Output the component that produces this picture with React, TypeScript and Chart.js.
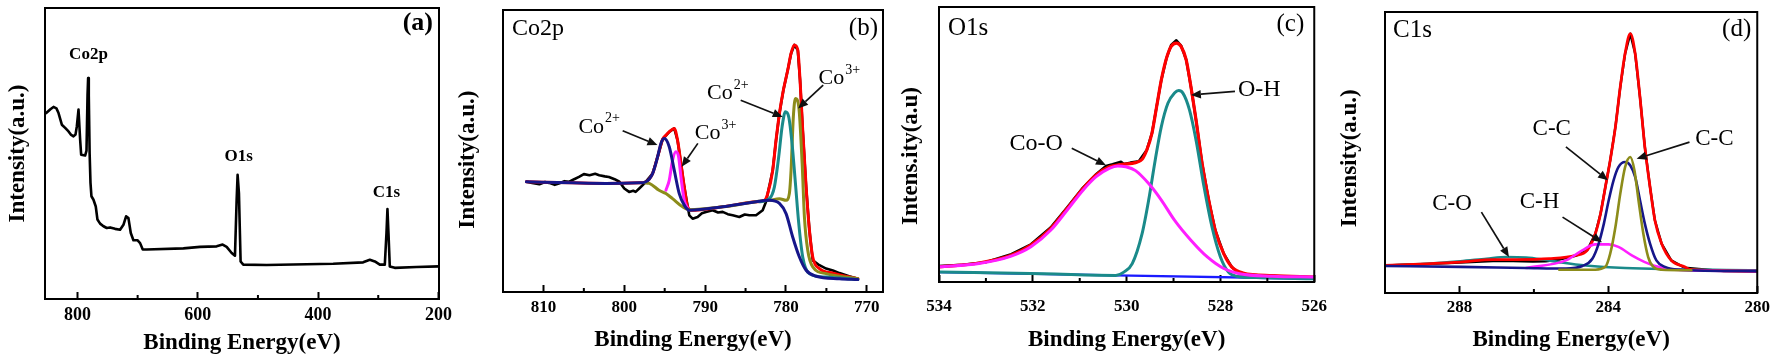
import React, { useEffect, useRef } from "react";
import { Chart, registerables } from "chart.js";

Chart.register(...registerables);

type P = [number, number];

const H = 361;
const FONT = "'Liberation Serif', 'Times New Roman', serif";

// ---------------- Panel (a): survey spectrum ----------------
const surveyMajorTicks = [800, 600, 400, 200];
const surveyMinorTicks = [700, 500, 300];
const surveySpectrum: P[] = [
  [852.0, 63.9], [845, 65.2], [839.9, 66.0], [835, 65.5], [831.5, 63.9], [826.0, 59.9], [820.5, 58.8],
  [814.9, 57.6], [811.1, 56.5], [806.6, 55.9], [803.3, 56.5], [801.1, 59.3], [798.3, 65.1], [795.6, 54.8],
  [793.9, 49.6], [787.3, 49.3], [785.0, 51.0], [783.3, 70.0], [782.3, 75.9], [781.2, 70.0], [779.8, 50.0],
  [778.4, 40.0], [776.8, 35.3], [773.4, 34.1], [769.6, 31.8], [766.8, 27.3], [762.4, 25.9], [756.8, 25.0],
  [751.3, 24.4], [745.8, 24.6], [737.5, 24.1], [729.2, 23.8], [723.6, 25.5], [719.2, 28.4], [715.3, 27.8],
  [711.4, 22.7], [707.0, 20.2], [700.4, 20.2], [695.9, 19.2], [691.5, 17.0], [684.9, 17.0], [624.0, 17.4],
  [596.3, 17.9], [568.6, 18.1], [558.7, 18.7], [552.0, 17.9], [543.7, 15.8], [538.2, 14.9], [535.4, 34.1],
  [533.8, 42.7], [531.6, 36.4], [528.8, 12.9], [524.4, 11.8], [485.6, 11.7], [374.9, 12.1], [325.1, 12.6],
  [314.0, 13.5], [305.7, 12.9], [297.4, 11.8], [289.1, 11.8], [286.3, 22.7], [284.7, 30.9], [283.0, 22.7],
  [280.8, 11.2], [272.5, 10.7], [236.5, 11.0], [199, 11.2],
];

// ---------------- Panel (b): Co2p ----------------
const coMajorTicks = [810, 800, 790, 780, 770];
const coMinorTicks = [805, 795, 785, 775];
const coRaw: P[] = [
  [812.1, 39.1], [811.4, 38.7], [810.5, 38.2], [809.8, 39.0], [809.3, 38.7], [808.6, 38.0], [808.1, 38.5],
  [807.4, 39.3], [806.8, 39.1], [806.2, 40.0], [805.6, 40.8], [805.0, 41.8], [804.3, 41.4], [803.6, 41.9],
  [803.1, 41.4], [802.4, 41.0], [801.9, 40.8], [801.2, 40.0], [800.6, 39.1], [800.0, 36.7], [799.4, 35.5],
  [798.9, 35.9], [798.6, 35.5], [798.15, 36.7], [797.5, 38.5], [796.5, 42.0], [795.88, 47.9], [795.26, 54.1],
  [794.44, 56.8], [793.82, 58.0], [793.41, 53.8], [792.99, 45.6], [792.58, 37.3], [792.2, 31.0], [791.96, 27.2],
  [791.55, 26.0], [790.93, 26.6], [790.4, 27.9], [789.9, 28.4], [789.07, 29.0], [788.4, 28.2], [787.83, 28.4],
  [787.2, 27.6], [786.59, 27.2], [785.77, 26.6], [785.1, 27.5], [784.53, 27.2], [783.7, 27.2], [782.88, 29.0],
  [782.47, 32.0], [782.26, 34.9], [781.64, 43.2], [781.23, 53.8], [780.81, 63.3], [780.32, 71.6], [779.78, 78.7],
  [779.37, 84.6], [778.96, 87.6], [778.54, 85.8], [778.26, 75.1], [777.93, 57.4], [777.51, 37.3], [777.1, 21.9],
  [776.69, 11.2], [775.86, 9.5], [775.04, 8.3], [774.2, 7.6], [773.38, 6.7], [772.2, 5.6], [771.11, 4.7],
];
const coEnvelope: P[] = [
  [812.1, 39.1], [806.4, 38.7], [802.3, 38.5], [798.15, 38.7], [797.33, 39.1], [796.5, 42.0], [795.88, 47.9],
  [795.26, 54.1], [794.85, 55.6], [794.44, 56.8], [793.82, 58.0], [793.41, 53.8], [792.99, 45.6], [792.58, 37.3],
  [792.17, 30.2], [791.75, 29.0], [787.83, 30.2], [783.7, 32.0], [782.67, 32.5], [782.26, 34.9], [781.64, 43.2],
  [781.23, 53.8], [780.81, 63.3], [780.32, 71.6], [779.78, 78.7], [779.37, 84.6], [778.96, 87.6], [778.54, 85.8],
  [778.26, 75.1], [777.93, 57.4], [777.51, 37.3], [777.1, 21.9], [776.69, 12.4], [775.86, 8.3], [774.21, 6.7],
  [771.11, 4.7],
];
const coCo2Satellite: P[] = [
  [812.1, 39.1], [806.4, 38.7], [802.3, 38.5], [798.15, 38.7], [797.33, 39.1], [796.5, 42.0], [795.88, 47.9],
  [795.47, 52.7], [795.06, 54.4], [794.44, 51.5], [793.82, 43.2], [793.2, 34.9], [792.58, 30.8], [791.96, 29.0],
  [787.83, 30.2], [783.7, 32.0], [782.05, 32.5], [780.81, 31.4], [779.99, 27.8], [779.17, 19.5], [778.34, 12.4],
  [777.51, 7.7], [776.27, 5.6], [773.38, 4.7], [771.11, 4.4],
];
const coCo3Half: P[] = [
  [794.85, 36.1], [794.44, 39.6], [794.03, 46.7], [793.61, 49.7], [793.28, 47.9], [792.99, 40.8], [792.58, 32.5],
  [792.17, 29.6],
];
const coCo3Main: P[] = [
  [797.5, 38.7], [796.9, 38.5], [795.7, 36.1], [794.85, 34.9], [794.03, 33.1], [792.79, 30.2], [791.96, 29.2],
  [787.83, 30.2], [783.7, 32.0], [782.05, 32.5], [780.81, 33.1], [779.99, 32.5], [779.58, 34.9], [779.37, 43.2],
  [779.09, 62.1], [778.83, 68.6], [778.42, 65.7], [778.0, 45.6], [777.72, 26.6], [777.31, 14.8], [776.69, 8.9],
  [775.04, 6.5], [771.11, 4.7],
];
const coCo2Main: P[] = [
  [783.29, 32.0], [782.05, 33.1], [781.43, 37.3], [780.9, 47.9], [780.48, 58.6], [780.07, 63.9], [779.66, 62.1],
  [779.25, 52.7], [778.83, 38.5], [778.42, 24.3], [777.93, 12.4], [777.1, 6.5], [775.04, 5.3], [771.11, 4.4],
];

// ---------------- Panel (c): O1s ----------------
const oMajorTicks = [534, 532, 530, 528, 526];
const oMinorTicks = [533, 531, 529, 527];
const oRaw: P[] = [
  [534, 5.8], [533.5, 6.3], [533.01, 7.2], [532.46, 10.1], [532.04, 13.7], [531.62, 19.8], [531.27, 27.1],
  [530.93, 34.3], [530.65, 39.2], [530.44, 42.2], [530.3, 42.8], [530.12, 43.7], [530.06, 42.9], [529.92, 43.4],
  [529.74, 43.9], [529.57, 48.0], [529.46, 54.1], [529.36, 63.8], [529.26, 73.5], [529.15, 81.4], [529.05, 86.2],
  [528.94, 87.9], [528.84, 86.0], [528.73, 80.8], [528.63, 71.1], [528.52, 58.9], [528.39, 43.1], [528.25, 29.8],
  [528.11, 18.8], [527.93, 10.3], [527.76, 5.5], [527.59, 2.8], [526.89, 2.2], [526, 1.6],
];
const oEnvelope: P[] = [
  [534, 5.5], [533.15, 6.9], [532.46, 9.7], [532.04, 13.4], [531.62, 19.4], [531.27, 26.7], [530.93, 34.0],
  [530.65, 38.9], [530.37, 41.9], [530.09, 42.8], [529.81, 43.4], [529.67, 44.6], [529.57, 48.0], [529.46, 54.1],
  [529.36, 63.8], [529.26, 73.5], [529.15, 81.4], [529.05, 85.7], [528.94, 86.9], [528.84, 85.7], [528.73, 80.8],
  [528.63, 71.1], [528.52, 58.9], [528.39, 43.1], [528.25, 29.8], [528.11, 18.8], [527.93, 10.3], [527.76, 5.5],
  [527.52, 3.3], [526.89, 2.3], [526, 1.8],
];
const oCoO: P[] = [
  [534, 5.5], [533.15, 6.7], [532.46, 9.4], [532.04, 12.8], [531.62, 18.8], [531.27, 26.1], [530.93, 33.4],
  [530.65, 38.3], [530.37, 41.3], [530.19, 42.2], [530.02, 41.9], [529.81, 40.5], [529.53, 35.8], [529.26, 29.8],
  [528.98, 22.5], [528.63, 15.2], [528.28, 9.1], [527.93, 4.9], [527.59, 3.0], [526.89, 2.1], [526, 1.8],
];
const oOH: P[] = [
  [534, 3.6], [531.76, 3.0], [530.23, 2.4], [530.06, 3.6], [529.88, 6.7], [529.67, 17.6], [529.53, 29.8],
  [529.39, 44.4], [529.26, 56.5], [529.12, 65.0], [528.98, 68.7], [528.89, 69.6], [528.8, 68.7], [528.66, 62.6],
  [528.52, 51.6], [528.35, 34.6], [528.18, 20.0], [528.0, 9.1], [527.83, 3.6], [527.66, 2.1], [527.24, 1.6],
  [526, 1.2],
];
const oBackground: P[] = [[534, 3.6], [530.23, 2.4], [526, 1.2]];

// ---------------- Panel (d): C1s ----------------
const cMajorTicks = [288, 284, 280];
const cMinorTicks = [286, 282];
const cRaw: P[] = [
  [290, 9.8], [288.87, 10.3], [287.98, 10.8], [287.1, 11.4], [286.56, 11.4], [286.03, 11.2], [285.68, 11.3],
  [285.32, 11.9], [284.88, 13.2], [284.57, 15.2], [284.35, 21.1], [284.21, 28.2], [284.08, 37.7], [283.95, 47.2],
  [283.81, 59.1], [283.68, 73.3], [283.55, 85.2], [283.41, 92.3], [283.28, 85.2], [283.15, 69.7], [283.02, 52.0],
  [282.88, 37.7], [282.75, 25.9], [282.57, 17.6], [282.31, 11.6], [281.95, 9.0], [280.89, 7.8], [280, 7.6],
];
const cEnvelope: P[] = [
  [290, 9.8], [288.87, 10.4], [287.98, 11.0], [287.1, 11.9], [286.47, 11.9], [285.59, 12.2], [284.88, 13.4],
  [284.57, 15.2], [284.35, 21.1], [284.21, 28.2], [284.08, 37.7], [283.95, 47.2], [283.81, 59.1], [283.68, 73.3],
  [283.55, 85.2], [283.41, 92.3], [283.28, 85.2], [283.15, 69.7], [283.02, 52.0], [282.88, 37.7], [282.75, 25.9],
  [282.57, 17.6], [282.31, 11.6], [281.95, 9.3], [281.77, 8.3], [280, 7.8],
];
const cCC1: P[] = [
  [290, 9.6], [287.98, 9.3], [286.21, 8.9], [285.14, 8.7], [284.7, 9.6], [284.43, 12.2], [284.26, 17.6],
  [284.12, 24.7], [283.99, 33.0], [283.86, 40.1], [283.73, 44.8], [283.55, 46.6], [283.41, 45.4], [283.28, 41.3],
  [283.15, 33.0], [283.02, 24.7], [282.88, 17.6], [282.71, 11.6], [282.48, 9.3], [282.13, 8.3], [280, 7.8],
];
const cCC2: P[] = [
  [285.32, 8.3], [284.35, 8.3], [284.08, 9.3], [283.95, 14.0], [283.81, 23.5], [283.68, 35.3], [283.55, 44.8],
  [283.41, 48.4], [283.3, 43.7], [283.19, 33.0], [283.06, 21.1], [282.93, 12.8], [282.79, 9.3], [282.57, 8.3],
  [281.77, 8.1],
];
const cCH: P[] = [
  [286.21, 8.9], [285.14, 11.6], [284.7, 15.2], [284.35, 17.3], [283.99, 17.3], [283.73, 16.4], [283.37, 13.4],
  [283.02, 11.0], [282.66, 9.3], [282.22, 8.3], [280, 7.8],
];
const cCO: P[] = [
  [290, 9.8], [288.87, 10.4], [287.98, 11.3], [287.27, 12.2], [286.74, 12.8], [286.21, 12.6], [285.76, 11.9],
  [285.32, 11.0], [284.61, 9.8], [283.55, 8.9], [280, 8.1],
];

// ---------------- Types ----------------
type Series = { data: P[]; color: string; width: number; smooth: boolean; order: number };
type Note = { text: string; sup?: string; x: number; y: number; from?: P; to?: P; bold?: boolean; size: number };
type Corner = { text: string; side: "left" | "right"; dx: number; dy: number; bold?: boolean; size: number };
type Panel = {
  left: number;
  width: number;
  box: { l: number; r: number; t: number; b: number };
  xMin: number;
  xMax: number;
  major: number[];
  minor: number[];
  tickSize: number;
  tickPad: number;
  xTitlePad: number;
  yTitle: string;
  yTitlePad: number;
  series: Series[];
  notes: Note[];
  corners: Corner[];
};

const RED = "#ff0000";
const NAVY = "#16168a";
const MAGENTA = "#ff1eff";
const OLIVE = "#8c8c1a";
const TEAL = "#1a8a8a";
const BLUE = "#1a1aff";
const BLACK = "#000000";
const NB = "\u00A0";

const panels: Panel[] = [
  {
    left: 0, width: 470, box: { l: 45, r: 439, t: 8, b: 299 },
    xMin: 199, xMax: 854, major: surveyMajorTicks, minor: surveyMinorTicks,
    tickSize: 18, tickPad: 14.5, xTitlePad: 6.5, yTitle: "Intensity(a.u.)", yTitlePad: 6.5,
    series: [{ data: surveySpectrum, color: BLACK, width: 2.6, smooth: false, order: 0 }],
    notes: [
      { text: "Co2p", x: 781.7, y: 84.0, bold: true, size: 17 },
      { text: "O1s", x: 532.1, y: 49.0, bold: true, size: 17 },
      { text: "C1s", x: 286.4, y: 36.4, bold: true, size: 17 },
    ],
    corners: [{ text: "(a)", side: "right", dx: 6, dy: 15, bold: true, size: 26 }],
  },
  {
    left: 452, width: 453, box: { l: 503, r: 883, t: 10, b: 292 },
    xMin: 768, xMax: 815, major: coMajorTicks, minor: coMinorTicks,
    tickSize: 17, tickPad: 14, xTitlePad: 9.5, yTitle: "Intensity(a.u.)" + NB + NB + NB, yTitlePad: 4.5,
    series: [
      { data: coCo2Satellite, color: NAVY, width: 3, smooth: true, order: 0 },
      { data: coCo2Main, color: TEAL, width: 3, smooth: true, order: 1 },
      { data: coCo3Main, color: OLIVE, width: 3, smooth: true, order: 2 },
      { data: coCo3Half, color: MAGENTA, width: 3, smooth: true, order: 3 },
      { data: coEnvelope, color: RED, width: 3, smooth: true, order: 4 },
      { data: coRaw, color: BLACK, width: 2.6, smooth: false, order: 5 },
    ],
    notes: [
      { text: "Co", sup: "2+", x: 803.1, y: 58.6, from: [800.2, 57.2], to: [795.9, 52.1], size: 22 },
      { text: "Co", sup: "3+", x: 788.7, y: 56.2, from: [790.9, 52.7], to: [792.9, 44.4], size: 22 },
      { text: "Co", sup: "2+", x: 787.2, y: 70.4, from: [785.6, 68.0], to: [780.4, 62.1], size: 22 },
      { text: "Co", sup: "3+", x: 773.4, y: 75.7, from: [775.4, 73.4], to: [778.5, 65.1], size: 22 },
    ],
    corners: [
      { text: "Co2p", side: "left", dx: 9, dy: 19, size: 24 },
      { text: "(b)", side: "right", dx: 5, dy: 18, size: 25 },
    ],
  },
  {
    left: 890, width: 460, box: { l: 939, r: 1323, t: 7, b: 282 },
    xMin: 526, xMax: 534, major: oMajorTicks, minor: oMinorTicks,
    tickSize: 17, tickPad: 23, xTitlePad: 9.5, yTitle: "Intens.ity(a.u)" + NB + NB + NB + NB, yTitlePad: 9.5,
    series: [
      { data: oCoO, color: MAGENTA, width: 3, smooth: true, order: 0 },
      { data: oOH, color: TEAL, width: 3, smooth: true, order: 1 },
      { data: oEnvelope, color: RED, width: 3.2, smooth: true, order: 2 },
      { data: oRaw, color: BLACK, width: 2.6, smooth: false, order: 3 },
      { data: oBackground, color: BLUE, width: 2.4, smooth: false, order: 4 },
    ],
    notes: [
      { text: "Co-O", x: 531.93, y: 50.4, from: [531.17, 48.6], to: [530.44, 42.5], size: 24 },
      { text: "O-H", x: 527.17, y: 69.9, from: [527.69, 69.3], to: [528.63, 68.0], size: 24 },
    ],
    corners: [
      { text: "O1s", side: "left", dx: 9, dy: 21, size: 25 },
      { text: "(c)", side: "right", dx: 10, dy: 17, size: 25 },
    ],
  },
  {
    left: 1334, width: 449, box: { l: 1385, r: 1764, t: 12, b: 293 },
    xMin: 280, xMax: 290, major: cMajorTicks, minor: cMinorTicks,
    tickSize: 17, tickPad: 13, xTitlePad: 9.5, yTitle: "Intensity(a.u.)" + NB + NB, yTitlePad: 4.5,
    series: [
      { data: cCC2, color: OLIVE, width: 2.6, smooth: true, order: 0 },
      { data: cCC1, color: NAVY, width: 2.6, smooth: true, order: 1 },
      { data: cCH, color: MAGENTA, width: 2.6, smooth: true, order: 2 },
      { data: cEnvelope, color: RED, width: 2.8, smooth: true, order: 3 },
      { data: cCO, color: TEAL, width: 2.6, smooth: true, order: 4 },
      { data: cRaw, color: BLACK, width: 2.4, smooth: false, order: 5 },
    ],
    notes: [
      { text: "C-C", x: 285.52, y: 58.5, from: [285.14, 52.0], to: [284.01, 40.1], size: 23 },
      { text: "C-C", x: 281.15, y: 54.9, from: [281.82, 53.7], to: [283.24, 47.8], size: 23 },
      { text: "C-H", x: 285.85, y: 32.4, from: [285.23, 27.0], to: [284.17, 18.1], size: 23 },
      { text: "C-O", x: 288.2, y: 31.8, from: [287.41, 28.8], to: [286.67, 12.8], size: 23 },
    ],
    corners: [
      { text: "C1s", side: "left", dx: 8, dy: 18, size: 25 },
      { text: "(d)", side: "right", dx: 6, dy: 17, size: 25 },
    ],
  },
];

function drawArrow(ctx: CanvasRenderingContext2D, x1: number, y1: number, x2: number, y2: number) {
  const ang = Math.atan2(y2 - y1, x2 - x1);
  const len = 10;
  const half = 4.2;
  const bx = x2 - len * Math.cos(ang);
  const by = y2 - len * Math.sin(ang);
  ctx.beginPath();
  ctx.moveTo(x1, y1);
  ctx.lineTo(bx, by);
  ctx.lineWidth = 1.7;
  ctx.strokeStyle = "#111";
  ctx.stroke();
  ctx.beginPath();
  ctx.moveTo(x2, y2);
  ctx.lineTo(bx + half * Math.sin(ang), by - half * Math.cos(ang));
  ctx.lineTo(bx - half * Math.sin(ang), by + half * Math.cos(ang));
  ctx.closePath();
  ctx.fillStyle = "#111";
  ctx.fill();
}

function decorPlugin(p: Panel) {
  return {
    id: "decor",
    afterDraw(chart: any) {
      const { ctx, chartArea } = chart;
      const xs = chart.scales.x;
      const ys = chart.scales.y;
      const { left, right, top, bottom } = chartArea;
      ctx.save();
      // frame
      ctx.strokeStyle = "#000";
      ctx.lineWidth = 2;
      ctx.strokeRect(left, top, right - left, bottom - top);
      // minor ticks
      ctx.beginPath();
      for (const v of p.minor) {
        const px = xs.getPixelForValue(v);
        ctx.moveTo(px, bottom);
        ctx.lineTo(px, bottom - 4);
      }
      ctx.stroke();
      // annotations
      ctx.fillStyle = "#000";
      ctx.textBaseline = "middle";
      for (const n of p.notes) {
        const px = xs.getPixelForValue(n.x);
        const py = ys.getPixelForValue(n.y);
        const w = n.bold ? "bold" : "normal";
        ctx.font = `${w} ${n.size}px ${FONT}`;
        const w1 = ctx.measureText(n.text).width;
        let w2 = 0;
        const supSize = Math.round(n.size * 0.64);
        if (n.sup) {
          ctx.font = `${w} ${supSize}px ${FONT}`;
          w2 = ctx.measureText(n.sup).width + 1;
        }
        const sx = px - (w1 + w2) / 2;
        ctx.textAlign = "left";
        ctx.font = `${w} ${n.size}px ${FONT}`;
        ctx.fillStyle = "#000";
        ctx.fillText(n.text, sx, py);
        if (n.sup) {
          ctx.font = `${w} ${supSize}px ${FONT}`;
          ctx.fillText(n.sup, sx + w1 + 1, py - n.size * 0.36);
        }
        if (n.from && n.to) {
          drawArrow(
            ctx,
            xs.getPixelForValue(n.from[0]), ys.getPixelForValue(n.from[1]),
            xs.getPixelForValue(n.to[0]), ys.getPixelForValue(n.to[1]),
          );
        }
      }
      // corner labels
      for (const c of p.corners) {
        ctx.font = `${c.bold ? "bold" : "normal"} ${c.size}px ${FONT}`;
        ctx.fillStyle = "#000";
        ctx.textBaseline = "middle";
        if (c.side === "left") {
          ctx.textAlign = "left";
          ctx.fillText(c.text, left + c.dx, top + c.dy);
        } else {
          ctx.textAlign = "right";
          ctx.fillText(c.text, right - c.dx, top + c.dy);
        }
      }
      ctx.restore();
    },
  };
}

function makeConfig(p: Panel): any {
  return {
    type: "line",
    data: {
      datasets: p.series.map((s) => ({
        data: s.data.map(([x, y]) => ({ x, y })),
        borderColor: s.color,
        borderWidth: s.width,
        pointRadius: 0,
        fill: false,
        tension: s.smooth ? 0.4 : 0,
        cubicInterpolationMode: s.smooth ? "monotone" : "default",
        order: s.order,
        borderJoinStyle: "round",
        borderCapStyle: "round",
      })),
    },
    options: {
      animation: false,
      responsive: false,
      devicePixelRatio: 1,
      events: [],
      layout: { padding: { left: 0, top: p.box.t, right: p.left + p.width - p.box.r, bottom: 0 } },
      plugins: { legend: { display: false }, tooltip: { enabled: false }, title: { display: false } },
      scales: {
        x: {
          type: "linear",
          position: "bottom",
          reverse: true,
          min: p.xMin,
          max: p.xMax,
          afterBuildTicks: (s: any) => {
            s.ticks = p.major.map((v) => ({ value: v }));
          },
          afterFit: (s: any) => {
            s.height = H - p.box.b;
          },
          ticks: {
            autoSkip: false,
            maxRotation: 0,
            minRotation: 0,
            padding: p.tickPad,
            color: "#000",
            font: { family: FONT, size: p.tickSize, weight: "bold", lineHeight: 1 },
            callback: (v: any) => String(v),
          },
          grid: {
            display: true,
            drawOnChartArea: false,
            drawTicks: true,
            tickLength: -7,
            tickColor: "#000",
            tickWidth: 2,
          },
          border: { display: false },
          title: {
            display: true,
            text: "Binding Energy(eV)",
            color: "#000",
            font: { family: FONT, size: 23, weight: "bold", lineHeight: 1 },
            padding: { top: 0, bottom: p.xTitlePad },
          },
        },
        y: {
          type: "linear",
          position: "left",
          min: 0,
          max: 100,
          afterFit: (s: any) => {
            s.width = p.box.l - p.left;
          },
          ticks: { display: false },
          grid: { display: false },
          border: { display: false },
          title: {
            display: true,
            text: p.yTitle,
            color: "#000",
            font: { family: FONT, size: 23, weight: "bold", lineHeight: 1 },
            padding: { top: p.yTitlePad, bottom: 0 },
          },
        },
      },
    },
    plugins: [decorPlugin(p)],
  };
}

function PanelChart({ p }: { p: Panel }) {
  const ref = useRef<HTMLCanvasElement | null>(null);
  useEffect(() => {
    if (!ref.current) return;
    const chart = new Chart(ref.current, makeConfig(p));
    return () => chart.destroy();
  }, [p]);
  return (
    <canvas
      ref={ref}
      width={p.width}
      height={H}
      style={{ position: "absolute", left: p.left, top: 0, width: p.width, height: H }}
    />
  );
}

export default function App() {
  return (
    <div style={{ position: "absolute", left: 0, top: 0, width: 1783, height: H, background: "#fff", overflow: "hidden" }}>
      {panels.map((p, i) => (
        <PanelChart key={i} p={p} />
      ))}
    </div>
  );
}
